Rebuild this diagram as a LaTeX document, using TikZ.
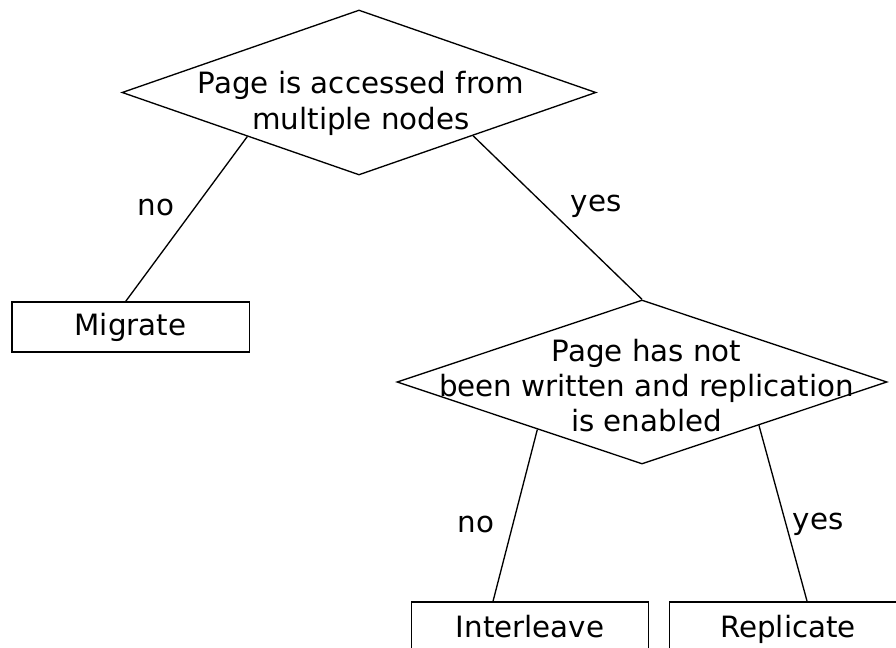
\documentclass[tikz,border=0pt]{standalone}
\usepackage{fontspec}
\setmainfont{DejaVu Sans}
\usetikzlibrary{shapes.geometric, calc}

\begin{document}
\begin{tikzpicture}[x=0.75pt, y=-0.75pt, line width=1pt]
    \tikzstyle{cond} = [draw, diamond, inner sep=0pt]
    \tikzstyle{act}  = [draw, rectangle, inner sep=0pt, minimum width=178pt, minimum height=37.5pt]
    \tikzstyle{txt}  = [align=center, inner sep=0pt, font=\fontsize{22}{26.5}\selectfont]
    \tikzstyle{ans}  = [anchor=base, inner sep=0pt, font=\fontsize{22}{26.5}\selectfont]

    \useasboundingbox (0,0) rectangle (896,648);

    % Intrebarile
    \node[cond, minimum width=355.5pt, minimum height=123.75pt] (acces) at (359,92.5) {};
    \node[txt] (accest) at (361,103.5) {Page is accessed from\\multiple nodes};
    \node[cond, minimum width=367.5pt, minimum height=123pt] (scris) at (642,382) {};
    \node[txt] (scrist) at (646.5,385.5) {Page has not\\been written and replication\\is enabled};

    % Actiunile
    \node[act] (migr) at (130.5,327) {};
    \node[ans] at (130.5,336) {Migrate};
    \node[act] (intl) at (530,627) {};
    \node[ans] at (530,637) {Interleave};
    \node[act] (repl) at (788,627) {};
    \node[ans] at (788,637) {Replicate};

    % Legaturile
    \draw ($(acces.west)!0.53!(acces.south)$) -- ($(migr.north west)!0.48!(migr.north east)$);
    \draw ($(acces.south)!0.48!(acces.east)$) -- (scris.north);
    \draw ($(scris.west)!0.574!(scris.south)$) -- ($(intl.north west)!0.345!(intl.north east)$);
    \draw ($(scris.south)!0.476!(scris.east)$) -- ($(repl.north west)!0.58!(repl.north east)$);

    \node[ans] (nu1) at (156,216) {no};
    \node[ans] (da1) at (596,212) {yes};
    \node[ans] (nu2) at (476,532) {no};
    \node[ans] (da2) at (818,529) {yes};
\end{tikzpicture}
\end{document}
